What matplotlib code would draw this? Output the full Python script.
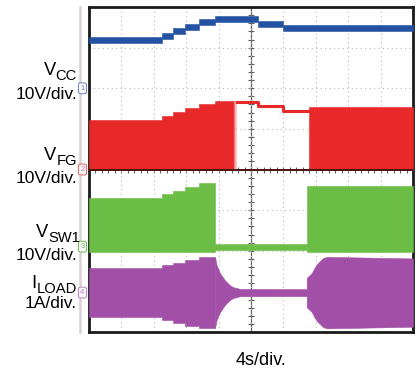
import matplotlib.pyplot as plt
import matplotlib.transforms as mtransforms
import numpy as np

plt.rcParams['font.family'] = ['Liberation Sans', 'DejaVu Sans']

# scope screen: 4 s/div over 10 div, 8 div vertical
t_span = 40
n_div_y = 8

# VCC, 10 V/div, ground at 6 div
vcc_offset = 6.0
t_vcc = [0, 9.0, 10.4, 11.9, 13.6, 15.6, 20.9, 24.0, 40]
vcc = [11.9, 12.9, 14.1, 15.1, 16.4, 17.1, 15.9, 14.9, 14.9]

# VFG, 10 V/div, ground at 4 div
fg_offset = 4.0
t_fg_on = [0, 9.0, 10.4, 11.9, 13.6, 15.6, 17.8]
fg_on = [12.2, 13.2, 14.2, 15.2, 16.2, 16.9, 16.9]
t_fg_high = [18.3, 20.9, 24.0, 27.2]
fg_high = [16.7, 15.7, 14.4, 14.4]
t_fg_on2 = [27.2, 40]
fg_on2 = [15.4, 15.4]

# VSW1, 10 V/div, ground at 2.1 div
sw_offset = 2.1
sw_floor = -1.2
t_sw_on = [0, 9.0, 10.4, 11.9, 13.6, 15.6]
sw_on = [12.0, 13.0, 13.7, 14.7, 15.7, 15.7]
t_sw_low = [15.6, 26.9]
sw_low = [-0.75, 0.75]
t_sw_on2 = [26.9, 40]
sw_on2 = [15.0, 15.0]

# ILOAD, 1 A/div, envelope half amplitude
load_offset = 0.97
t_load_ramp = [0, 9.0, 10.4, 11.9, 13.6, 15.56]
load_ramp = [0.60, 0.67, 0.74, 0.81, 0.88, 0.88]
t_load_decay = [15.56, 15.75, 16.17, 16.79, 17.41, 17.78, 18.64, 26.88]
load_decay = [0.87, 0.68, 0.48, 0.30, 0.18, 0.135, 0.09, 0.086]
t_load_rec = [26.88, 27.5, 27.9, 28.27, 28.9, 29.4, 40]
load_rec = [0.36, 0.48, 0.63, 0.73, 0.85, 0.88, 0.84]

blue = '#2452a3'
red = '#e8292a'
green = '#6cbd45'
purple = '#a24fa8'


def to_div(values, offset, scale=10.0):
    return offset + np.asarray(values, dtype=float) / scale


W, H = 417, 373
fig = plt.figure(figsize=(W / 100, H / 100), dpi=100)
ax = fig.add_axes([89 / W, (H - 332) / H, 324 / W, 325 / H])
ax.set_xlim(0, t_span)
ax.set_ylim(0, n_div_y)

# graticule
ax.set_xticks(np.arange(0, t_span + 1, 4))
ax.set_yticks(np.arange(0, n_div_y + 1))
ax.grid(True, color='#b8b8b8', linestyle=(0, (1, 3)), lw=0.8)
ax.tick_params(length=0, labelbottom=False, labelleft=False)
ax.axvline(t_span / 2, color='#606060', lw=0.9, zorder=1)
yy = np.arange(0, n_div_y, 0.2)
ax.plot(np.full(len(yy), t_span / 2), yy, ls='none', marker='_', ms=4, mew=0.8, color='#606060', zorder=1)
xx = np.arange(0, t_span, 0.8)
ax.plot(xx, np.full(len(xx), n_div_y / 2), ls='none', marker='|', ms=4, mew=0.8, color='#606060', zorder=1)
for s in ax.spines.values():
    s.set_linewidth(2.0)
    s.set_color('#1a1a1a')

# VCC
ax.fill_between(t_vcc, to_div(vcc, vcc_offset) - 0.075, to_div(vcc, vcc_offset) + 0.075,
                step='post', color=blue, lw=0.4, zorder=3)

# VFG
fg_base = to_div(0, fg_offset)
ax.fill_between(t_fg_on, fg_base, to_div(fg_on, fg_offset), step='post', color=red, lw=0.4, zorder=3)
edges = np.linspace(t_fg_on[-1], t_fg_high[0], 7)
for i in range(6):
    ax.fill_between(edges[i:i + 2], fg_base, to_div(fg_on[-1], fg_offset),
                    color=red, alpha=0.75 * (1 - i / 6), lw=0, zorder=3)
ax.step(t_fg_high, to_div(fg_high, fg_offset), where='post', color=red, lw=2.2, zorder=3)
ax.fill_between(t_fg_on2, fg_base, to_div(fg_on2, fg_offset), step='post', color=red, lw=0.4, zorder=3)
ax.axhline(fg_offset, color='#4a1410', lw=1.4, zorder=4)

# VSW1
ax.fill_between(t_sw_on, to_div(sw_floor, sw_offset), to_div(sw_on, sw_offset),
                step='post', color=green, lw=0.4, zorder=3)
ax.fill_between(t_sw_low, to_div(sw_low[0], sw_offset), to_div(sw_low[1], sw_offset),
                color=green, lw=0.4, zorder=3)
ax.fill_between(t_sw_on2, to_div(sw_floor, sw_offset), to_div(sw_on2, sw_offset),
                step='post', color=green, lw=0.4, zorder=3)

# ILOAD
a = np.asarray(load_ramp)
ax.fill_between(t_load_ramp, load_offset - a, load_offset + a, step='post', color=purple, lw=0.4, zorder=3)
a = np.asarray(load_decay)
ax.fill_between(t_load_decay, load_offset - a, load_offset + a, color=purple, lw=0.4, zorder=3)
a = np.asarray(load_rec)
ax.fill_between(t_load_rec, load_offset - a, load_offset + a, color=purple, lw=0.4, zorder=3)

# channel marker strip
fig.add_artist(plt.Line2D([80 / W, 80 / W], [1 - 7 / H, 1 - 332 / H], color='#dcd0d8', lw=1.8))
mark_tr = mtransforms.blended_transform_factory(fig.transFigure, ax.transData)
markers = [('1', vcc_offset, '#7f8fc8'), ('2', fg_offset, '#e07272'),
           ('3', sw_offset, '#7cc060'), ('4', load_offset, '#c08cc4')]
for num, off, c in markers:
    fig.text(82.5 / W, off, num, transform=mark_tr, fontsize=5.5, color=c, ha='center', va='center',
             bbox=dict(boxstyle='round,pad=0.25', fc='#f6f4fa', ec=c, lw=0.8))

# channel labels
renderer = fig.canvas.get_renderer()
labels = [('V', 'CC', '10V/div.', 75, 80, 99, 77),
          ('V', 'FG', '10V/div.', 160, 165, 183, 77),
          ('V', 'SW1', '10V/div.', 237, 242, 260, 80),
          ('I', 'LOAD', '1A/div.', 288, 293, 308, 77)]
for main, sub, scale, y_main, y_sub, y_scale, x_sub in labels:
    t = fig.text(x_sub / W, 1 - y_sub / H, sub, fontsize=10.6, ha='right', va='baseline')
    bb = t.get_window_extent(renderer)
    fig.text(bb.x0 / fig.bbox.width, 1 - y_main / H, main, fontsize=13.2, ha='right', va='baseline')
    fig.text(77 / W, 1 - y_scale / H, scale, fontsize=12.6, ha='right', va='baseline')

fig.text(261 / W, 1 - 365 / H, '4s/div.', fontsize=13, ha='center', va='baseline')

fig.savefig('out.png', dpi=100)
